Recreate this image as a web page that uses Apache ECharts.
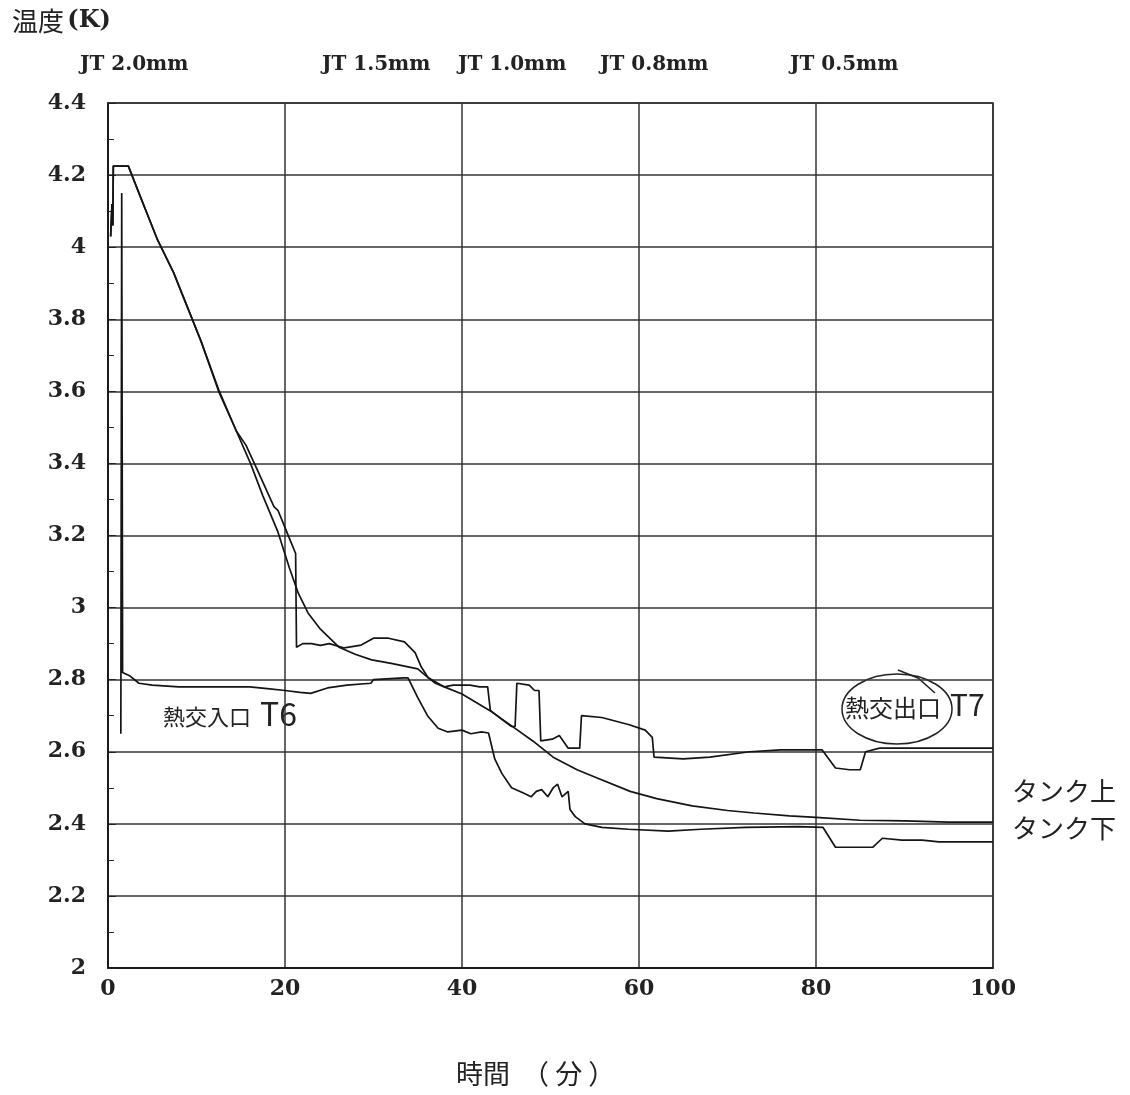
<!DOCTYPE html>
<html><head><meta charset="utf-8">
<script src="https://cdn.jsdelivr.net/npm/echarts@6/dist/echarts.min.js"></script>
<style>html,body{margin:0;padding:0;background:#fff}#c{width:1130px;height:1095px}</style>
</head><body><div id="c"></div>
<script>
// 時間 (分) , 温度 (K)
const xTicks = [0, 20, 40, 60, 80, 100];
const yRange = [2, 4.4];
const jtLabels = ['JT 2.0mm', 'JT 1.5mm', 'JT 1.0mm', 'JT 0.8mm', 'JT 0.5mm'];
const seriesNames = ['タンク', '熱交出口T7', '熱交入口T6'];

const tankCurve = [[0.3,4.03],[0.45,4.12],[0.55,4.06],[0.6,4.225],[2.3,4.225],[3.5,4.15],[5.6,4.02],[7.4,3.93],[10.5,3.74],[12.5,3.6],[14.5,3.49],[16.1,3.4],[17.5,3.31],[19.2,3.21],[20.5,3.11],[21.5,3.04],[22.6,2.985],[24,2.94],[26.1,2.89],[28,2.87],[29.8,2.855],[32,2.845],[35,2.83],[36.2,2.805],[38,2.78],[40,2.76],[43.4,2.71],[46,2.665],[48,2.63],[50.3,2.585],[53,2.55],[55,2.53],[59,2.49],[62,2.47],[66,2.45],[70,2.437],[73,2.43],[77,2.422],[80,2.418],[85,2.41],[90,2.408],[95,2.405],[100,2.405]];

const outletT7 = [[0.3,4.03],[0.45,4.12],[0.55,4.06],[0.6,4.225],[2.3,4.225],[3.5,4.15],[5.6,4.02],[7.4,3.93],[10.5,3.74],[12.5,3.605],[14.5,3.49],[15.6,3.45],[17,3.375],[18.75,3.28],[19.2,3.27],[20.2,3.21],[21.2,3.15],[21.3,2.89],[22,2.9],[23,2.9],[24,2.895],[25,2.9],[26.7,2.888],[28.6,2.896],[30,2.915],[31.7,2.915],[33.5,2.905],[34.7,2.875],[35.4,2.835],[36.2,2.805],[37,2.79],[38,2.78],[39,2.785],[40.9,2.785],[42,2.78],[42.9,2.78],[43.2,2.715],[44.5,2.69],[45.6,2.67],[46,2.67],[46.2,2.79],[47.6,2.785],[48.2,2.77],[48.7,2.77],[48.9,2.63],[50.2,2.635],[51,2.645],[52,2.61],[53.3,2.61],[53.5,2.7],[55.8,2.695],[58.9,2.675],[60.7,2.66],[61.5,2.64],[61.7,2.585],[65,2.58],[68,2.585],[72.5,2.6],[76,2.605],[80.7,2.605],[82.2,2.555],[83.8,2.55],[85,2.55],[85.6,2.6],[87.2,2.61],[100,2.61]];

const inletT6 = [[1.45,2.65],[1.55,4.15],[1.65,2.82],[2.5,2.81],[3.5,2.79],[5,2.785],[8,2.78],[12,2.78],[16,2.78],[18,2.775],[20,2.77],[21.7,2.765],[22.9,2.762],[24.8,2.777],[27,2.785],[29.7,2.79],[30,2.8],[33.4,2.805],[33.9,2.805],[35,2.75],[36.1,2.7],[37.3,2.665],[38.4,2.655],[40,2.66],[41,2.65],[42.2,2.655],[43,2.652],[43.7,2.58],[44.5,2.54],[45.6,2.5],[47,2.485],[47.8,2.475],[48.4,2.49],[49,2.495],[49.7,2.475],[50.3,2.5],[50.8,2.51],[51.3,2.475],[52,2.49],[52.2,2.44],[52.8,2.42],[53.9,2.4],[55.8,2.39],[58.8,2.385],[63.3,2.38],[67,2.385],[72,2.39],[78,2.392],[80.8,2.39],[82.2,2.335],[86.4,2.335],[87.5,2.36],[89.7,2.355],[92,2.355],[93.9,2.35],[100,2.35]];

const chart = echarts.init(document.getElementById('c'));
const serif = 'DejaVu Serif';
const lineStyle = {color: '#141414', width: 1.7};
const jtPos = [80, 322, 458, 600, 790];

chart.setOption({
  backgroundColor: '#fff',
  animation: false,
  grid: {left: 108, right: 137, top: 103, bottom: 127, show: true, borderColor: '#222', borderWidth: 1.5},
  xAxis: {
    type: 'value', min: xTicks[0], max: xTicks[xTicks.length - 1], interval: 20,
    axisLine: {show: true, lineStyle: {color: '#111', width: 1.5}},
    axisTick: {show: false},
    axisLabel: {fontFamily: serif, fontWeight: 'bold', fontSize: 22, color: '#222', margin: 10},
    splitLine: {show: true, lineStyle: {color: '#333', width: 1.5}}
  },
  yAxis: {
    type: 'value', min: yRange[0], max: yRange[1], interval: 0.2,
    axisLine: {show: true, lineStyle: {color: '#111', width: 1.5}},
    axisTick: {show: true, inside: true, length: 8, lineStyle: {color: '#222'}},
    minorTick: {show: true, splitNumber: 2, length: 6, lineStyle: {color: '#222'}},
    axisLabel: {fontFamily: serif, fontWeight: 'bold', fontSize: 22, color: '#222', margin: 22},
    splitLine: {show: true, lineStyle: {color: '#333', width: 1.5}}
  },
  series: [
    {name: seriesNames[0], type: 'line', data: tankCurve, showSymbol: false, lineStyle: lineStyle, z: 3},
    {name: seriesNames[1], type: 'line', data: outletT7, showSymbol: false, lineStyle: lineStyle, z: 3},
    {name: seriesNames[2], type: 'line', data: inletT6, showSymbol: false, lineStyle: lineStyle, z: 3}
  ],
  graphic: [
    {type: 'text', left: 12, top: 8, style: {text: '{a|温度} {b|(K)}', rich: {a: {fontFamily: 'Noto Sans CJK JP', fontSize: 26, fill: '#222'}, b: {fontFamily: serif, fontWeight: 'bold', fontSize: 24, fill: '#222'}}}},
    ...jtLabels.map((t, i) => ({type: 'text', left: jtPos[i], top: 55, style: {text: t, font: 'bold 20px "DejaVu Serif"', fill: '#222'}})),
    {type: 'text', left: 456, top: 1060, style: {text: '時間  （ 分 ）', font: '27px "Noto Sans CJK JP"', fill: '#222'}},
    {type: 'text', left: 163, top: 706, style: {text: '熱交入口', font: '22px "Noto Sans CJK JP"', fill: '#222'}},
    {type: 'text', left: 260, top: 698, style: {text: 'T6', font: '32px "Noto Sans CJK JP"', fill: '#222'}},
    {type: 'text', left: 845, top: 696, style: {text: '熱交出口', font: '24px "Noto Sans CJK JP"', fill: '#222'}},
    {type: 'text', left: 950, top: 690, style: {text: 'T7', font: '30px "Noto Sans CJK JP"', fill: '#222'}},
    {type: 'ellipse', shape: {cx: 897, cy: 709, rx: 55, ry: 35}, style: {fill: 'none', stroke: '#222', lineWidth: 1.5}},
    {type: 'polyline', shape: {points: [[898, 670], [918, 678], [935, 693]]}, style: {fill: 'none', stroke: '#222', lineWidth: 1.5}},
    {type: 'text', left: 1012, top: 778, style: {text: 'タンク上', font: '26px "Noto Sans CJK JP"', fill: '#222'}},
    {type: 'text', left: 1012, top: 815, style: {text: 'タンク下', font: '26px "Noto Sans CJK JP"', fill: '#222'}}
  ]
});
</script></body></html>
